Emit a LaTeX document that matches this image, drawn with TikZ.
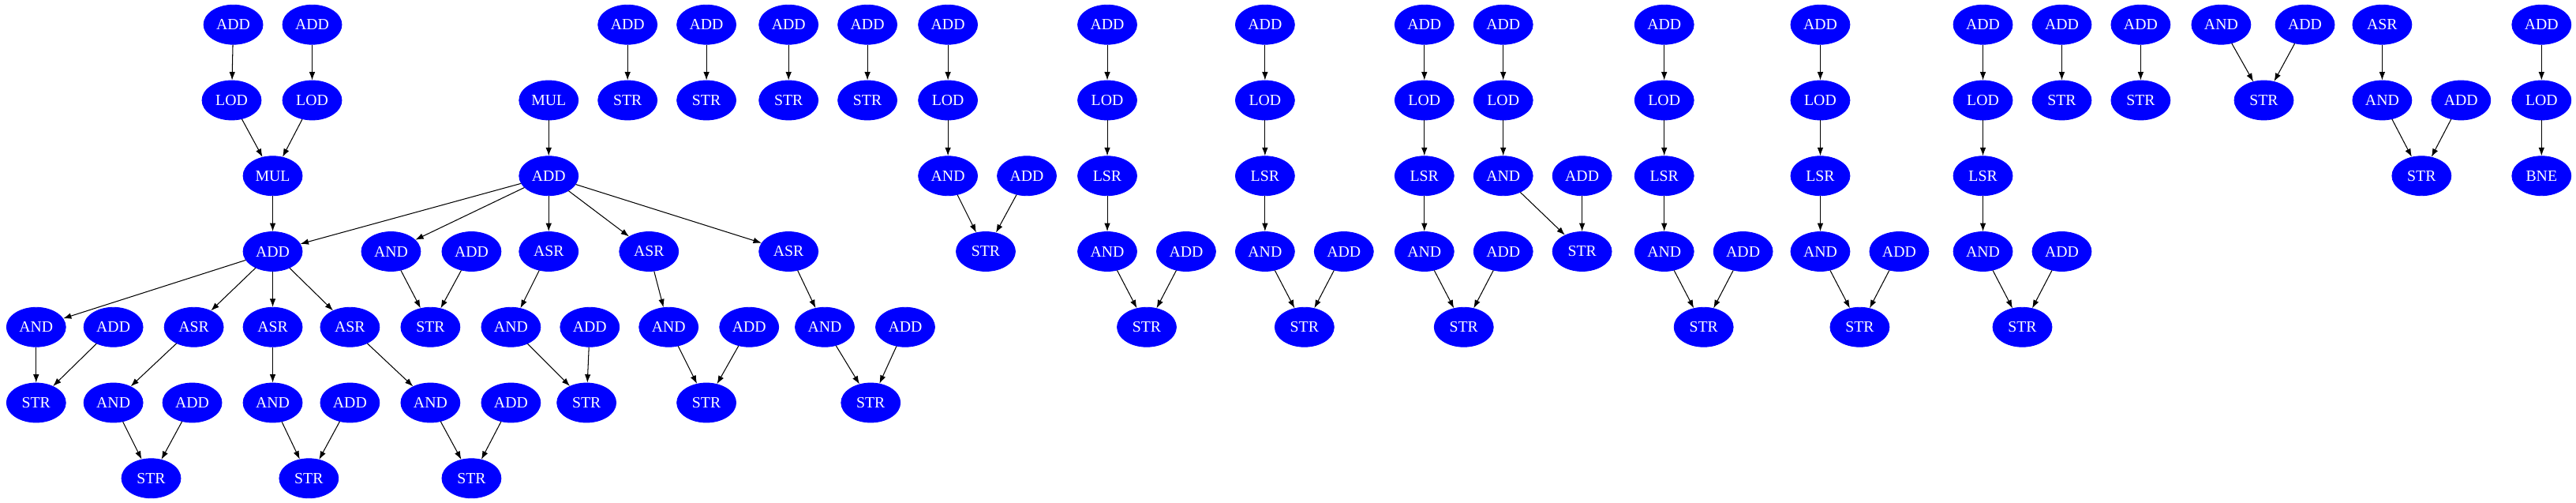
\documentclass[tikz,border=0pt]{standalone}
\usepackage{fontspec}
\setmainfont{Liberation Serif}
\usetikzlibrary{arrows.meta,shapes.geometric}
\begin{document}
\begin{tikzpicture}[x=1pt,y=-1pt,
  n/.style={ellipse,fill=blue,draw=blue,text=white,minimum width=36pt,minimum height=24pt,inner sep=0pt,font=\fontsize{9.5}{10}\selectfont},
  e/.style={-{Latex[length=5pt,width=3.6pt]},line width=0.5pt,black}]
\useasboundingbox (0,0) rectangle (1568,306);
\def\ra{15}\def\rb{61}\def\rc{107}\def\rd{153}\def\re{199}\def\rf{245}\def\rg{291}
% left cluster
\node[n] (a1) at (142,\ra) {ADD};
\node[n] (a2) at (190,\ra) {ADD};
\node[n] (l1) at (141,\rb) {LOD};
\node[n] (l2) at (190,\rb) {LOD};
\node[n] (m1) at (166,\rc) {MUL};
\node[n] (m2) at (334,\rb) {MUL};
\node[n] (B) at (334,\rc) {ADD};
\node[n] (C) at (166,\rd) {ADD};
\node[n] (d1) at (238,\rd) {AND};
\node[n] (d2) at (287,\rd) {ADD};
\node[n] (d3) at (334,\rd) {ASR};
\node[n] (d4) at (395,\rd) {ASR};
\node[n] (d5) at (480,\rd) {ASR};
\node[n] (e1) at (22,\re) {AND};
\node[n] (e2) at (69,\re) {ADD};
\node[n] (e3) at (118,\re) {ASR};
\node[n] (e4) at (166,\re) {ASR};
\node[n] (e5) at (213,\re) {ASR};
\node[n] (e6) at (262,\re) {STR};
\node[n] (e7) at (311,\re) {AND};
\node[n] (e8) at (359,\re) {ADD};
\node[n] (e9) at (407,\re) {AND};
\node[n] (e10) at (456,\re) {ADD};
\node[n] (e11) at (502,\re) {AND};
\node[n] (e12) at (551,\re) {ADD};
\node[n] (f1) at (22,\rf) {STR};
\node[n] (f2) at (69,\rf) {AND};
\node[n] (f3) at (117,\rf) {ADD};
\node[n] (f4) at (166,\rf) {AND};
\node[n] (f5) at (213,\rf) {ADD};
\node[n] (f6) at (262,\rf) {AND};
\node[n] (f7) at (311,\rf) {ADD};
\node[n] (f8) at (357,\rf) {STR};
\node[n] (f9) at (430,\rf) {STR};
\node[n] (f10) at (530,\rf) {STR};
\node[n] (g1) at (92,\rg) {STR};
\node[n] (g2) at (188,\rg) {STR};
\node[n] (g3) at (287,\rg) {STR};
\foreach \s/\t in {a1/l1,a2/l2,l1/m1,l2/m1,m1/C,m2/B,B/C,B/d1,B/d3,B/d4,B/d5,C/e1,C/e3,C/e4,C/e5,
  e1/f1,e2/f1,e3/f2,f2/g1,f3/g1,e4/f4,f4/g2,f5/g2,e5/f6,f6/g3,f7/g3,d1/e6,d2/e6,d3/e7,e7/f8,e8/f8,
  d4/e9,e9/f9,e10/f9,d5/e11,e11/f10,e12/f10}
  \draw[e] (\s) -- (\t);
% simple pairs
\foreach \i/\x in {1/382,2/430,3/480,4/528,5/1255,6/1303}{
  \node[n] (p\i) at (\x,\ra) {ADD};
  \node[n] (q\i) at (\x,\rb) {STR};
  \draw[e] (p\i) -- (q\i);}
% chains with AND at row c
\foreach \i/\x/\sx in {1/577/600,2/915/963}{
  \node[n] (ca\i) at (\x,\ra) {ADD};
  \node[n] (cl\i) at (\x,\rb) {LOD};
  \node[n] (cn\i) at (\x,\rc) {AND};
  \node[n] (cd\i) at (\x+48,\rc) {ADD};
  \node[n] (cs\i) at (\sx,\rd) {STR};
  \draw[e] (ca\i) -- (cl\i);
  \draw[e] (cl\i) -- (cn\i);
  \draw[e] (cn\i) -- (cs\i);
  \draw[e] (cd\i) -- (cs\i);}
% chains with LSR
\foreach \i/\x in {1/674,2/770,3/867,4/1013,5/1108,6/1207}{
  \node[n] (ha\i) at (\x,\ra) {ADD};
  \node[n] (hl\i) at (\x,\rb) {LOD};
  \node[n] (hr\i) at (\x,\rc) {LSR};
  \node[n] (hn\i) at (\x,\rd) {AND};
  \node[n] (hd\i) at (\x+48,\rd) {ADD};
  \node[n] (hs\i) at (\x+24,\re) {STR};
  \draw[e] (ha\i) -- (hl\i);
  \draw[e] (hl\i) -- (hr\i);
  \draw[e] (hr\i) -- (hn\i);
  \draw[e] (hn\i) -- (hs\i);
  \draw[e] (hd\i) -- (hs\i);}
% right
\node[n] (r1) at (1352,\ra) {AND};
\node[n] (r2) at (1403,\ra) {ADD};
\node[n] (r3) at (1378,\rb) {STR};
\draw[e] (r1) -- (r3); \draw[e] (r2) -- (r3);
\node[n] (s1) at (1450,\ra) {ASR};
\node[n] (s2) at (1450,\rb) {AND};
\node[n] (s3) at (1498,\rb) {ADD};
\node[n] (s4) at (1474,\rc) {STR};
\draw[e] (s1) -- (s2); \draw[e] (s2) -- (s4); \draw[e] (s3) -- (s4);
\node[n] (t1) at (1547,\ra) {ADD};
\node[n] (t2) at (1547,\rb) {LOD};
\node[n] (t3) at (1547,\rc) {BNE};
\draw[e] (t1) -- (t2); \draw[e] (t2) -- (t3);
\end{tikzpicture}
\end{document}
